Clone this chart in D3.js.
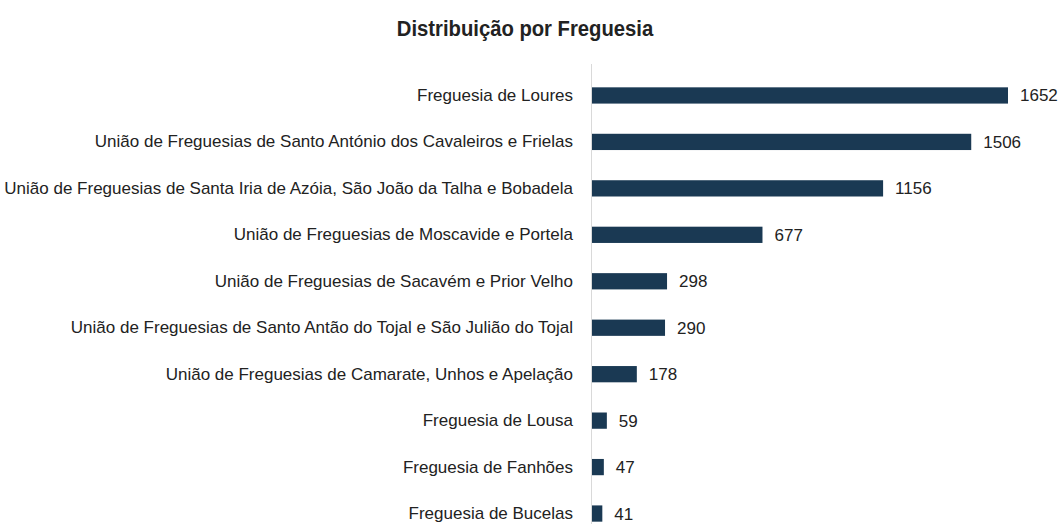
<!DOCTYPE html>
<meta charset="utf-8">
<script src="https://d3js.org/d3.v7.min.js"></script>
<style>
  body { margin: 0; background: #fff; }
  text { font-family: "Liberation Sans", Arial, sans-serif; fill: #222; }
</style>
<div id="my_dataviz"></div>
<script>
  // data
  var freguesias = [
    "Freguesia de Loures",
    "União de Freguesias de Santo António dos Cavaleiros e Frielas",
    "União de Freguesias de Santa Iria de Azóia, São João da Talha e Bobadela",
    "União de Freguesias de Moscavide e Portela",
    "União de Freguesias de Sacavém e Prior Velho",
    "União de Freguesias de Santo Antão do Tojal e São Julião do Tojal",
    "União de Freguesias de Camarate, Unhos e Apelação",
    "Freguesia de Lousa",
    "Freguesia de Fanhões",
    "Freguesia de Bucelas"
  ];
  var totais = [1652, 1506, 1156, 677, 298, 290, 178, 59, 47, 41];
  var titulo = "Distribuição por Freguesia";

  var data = freguesias.map(function(f, i) { return {nome: f, valor: totais[i]}; });

  var margin = {top: 72, right: 50, bottom: 0, left: 592},
      width = 1058 - margin.left - margin.right,
      height = 524 - margin.top - margin.bottom;

  var root = d3.select("#my_dataviz")
    .append("svg")
      .attr("width", 1058)
      .attr("height", 524);

  // title is a condensed bold face in the original, squeeze it a bit
  root.append("text")
    .attr("transform", "translate(525,36) scale(0.9,1)")
    .attr("text-anchor", "middle")
    .style("font-size", "22.5px")
    .style("font-weight", "bold")
    .text(titulo);

  var svg = root.append("g")
    .attr("transform", "translate(" + margin.left + "," + margin.top + ")");

  // x: 1652 ends at ~1008px
  var x = d3.scaleLinear()
    .domain([0, 1652])
    .range([0, 416]);

  var y = d3.scaleBand()
    .domain(freguesias)
    .range([0, 465])
    .paddingInner(0.65)
    .paddingOuter(0.33);

  // axis line
  svg.append("line")
    .attr("x1", -0.5).attr("x2", -0.5)
    .attr("y1", -8).attr("y2", height)
    .attr("stroke", "#d9d9d9")
    .attr("stroke-width", 1);

  var yAxis = svg.append("g")
    .call(d3.axisLeft(y).tickSize(0).tickPadding(19));
  yAxis.select(".domain").remove();
  yAxis.selectAll("text")
    .style("font-size", "17px")
    .attr("fill", "#222");

  svg.selectAll("mybar")
    .data(data)
    .enter()
    .append("rect")
      .attr("x", 0)
      .attr("y", function(d) { return y(d.nome); })
      .attr("width", function(d) { return x(d.valor); })
      .attr("height", y.bandwidth())
      .attr("fill", "#1a3953");

  svg.selectAll("mylabel")
    .data(data)
    .enter()
    .append("text")
      .attr("x", function(d) { return x(d.valor) + 12; })
      .attr("y", function(d) { return y(d.nome) + y.bandwidth() / 2 + 6; })
      .style("font-size", "17px")
      .text(function(d) { return d.valor; });
</script>
